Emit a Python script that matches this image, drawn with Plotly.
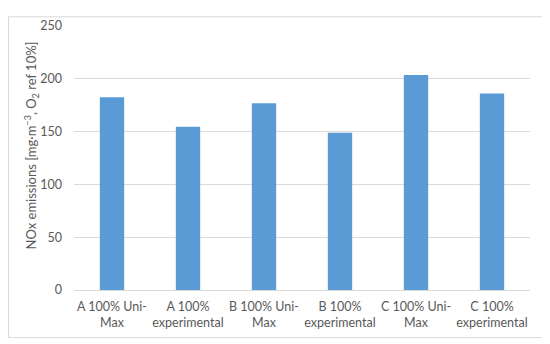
import plotly.graph_objects as go

categories = ["A 100% Uni-<br>Max", "A 100%<br>experimental", "B 100% Uni-<br>Max",
              "B 100%<br>experimental", "C 100% Uni-<br>Max", "C 100%<br>experimental"]
values = [182.6, 154.5, 176.8, 149.0, 203.5, 186.0]
y_ticks = [0, 50, 100, 150, 200, 250]

# page body adds an 8px offset; figure is sized to fill the rest of the window
OFF = 8
W, H = 550 - OFF, 344 - OFF
L, T = 74 - OFF, 18 - OFF
R, B = W - (530 - OFF), H - (290 - OFF)
pw, ph = W - L - R, H - T - B

fig = go.Figure(go.Bar(x=categories, y=values, marker_color="#5b9bd5",
                       marker_line_width=0, width=0.32))

fig.update_layout(
    width=W, height=H,
    margin=dict(l=L, r=R, t=T, b=B),
    paper_bgcolor="white", plot_bgcolor="white",
    font=dict(family="Lato, Open Sans, sans-serif", size=12.5, color="#595959"),
    showlegend=False,
    xaxis=dict(showgrid=False, showline=True, linecolor="#d9d9d9", linewidth=1,
               ticks="", ticklabelstandoff=5, tickfont=dict(size=12.5, color="#595959")),
    yaxis=dict(range=[0, 250], tickvals=y_ticks, showgrid=True, gridcolor="#d9d9d9",
               gridwidth=1, zeroline=False, ticks="", ticklabelstandoff=11,
               tickfont=dict(size=12.5, color="#595959")),
    annotations=[dict(text="NOx emissions [mg·m<sup>−3</sup>, O<sub>2</sub> ref 10%]",
                      xref="paper", yref="paper",
                      x=(31 - OFF - L) / pw, y=(H - B - (141 - OFF)) / ph,
                      xanchor="center", yanchor="middle", textangle=-90,
                      showarrow=False, font=dict(size=13, color="#595959"))],
    shapes=[dict(type="rect", xref="paper", yref="paper",
                 x0=(0.5 - L) / pw, x1=(546 - OFF - L) / pw,
                 y0=(H - B - (339 - OFF)) / ph, y1=(H - B - 0.5) / ph,
                 line=dict(color="#d9d9d9", width=1), fillcolor="rgba(0,0,0,0)",
                 layer="above")],
)

fig.write_html("out.html")
